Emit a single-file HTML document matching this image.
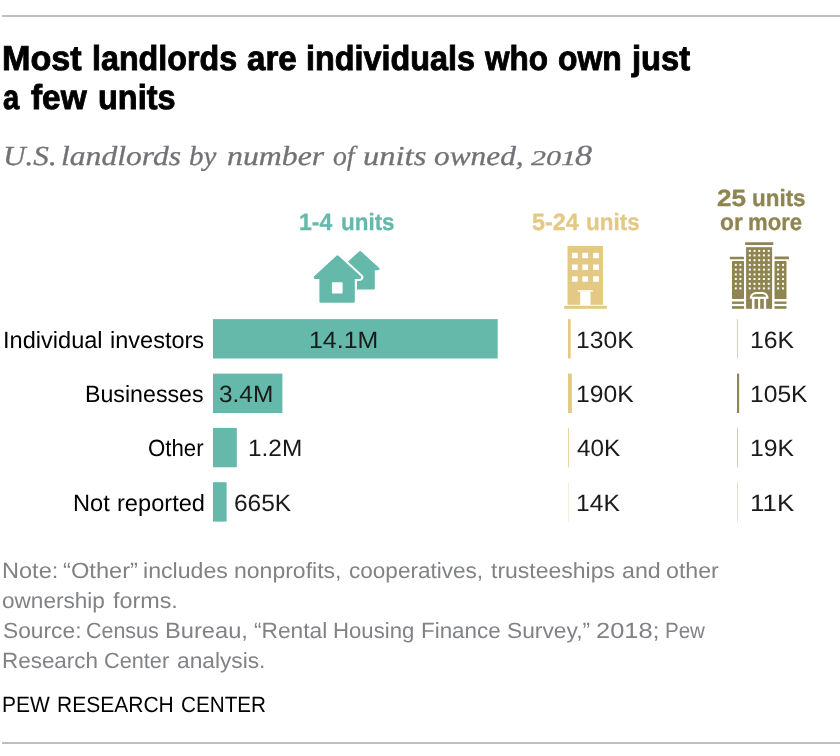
<!DOCTYPE html>
<html><head><meta charset="utf-8">
<style>
html,body{margin:0;padding:0;background:#fff;}
body{width:840px;height:756px;position:relative;overflow:hidden;font-family:"Liberation Sans",sans-serif;}
.abs{position:absolute;white-space:nowrap;line-height:1;transform-origin:0 0;text-rendering:geometricPrecision;}
.rule{position:absolute;left:2px;width:838px;height:2px;background:#bfbfbf;}
.title{font-weight:bold;color:#000;-webkit-text-stroke:0.9px #000;}
.sub{font-family:"Liberation Serif",serif;font-style:italic;color:#717276;-webkit-text-stroke:0.3px #717276;}
.lab{color:#000;}
.val{color:#1a1a1a;}
.hdr{font-weight:bold;-webkit-text-stroke:0.3px currentColor;}
.note{color:#808285;}
.bar{position:absolute;}
svg{position:absolute;left:0;top:0;}
</style></head><body>
<div class="rule" style="top:15px"></div>
<div class="abs title" id="e1" style="left:2.31px;top:41.98px;font-size:34.5px;transform:scaleX(0.9903);">Most</div>
<div class="abs title" id="e2" style="left:91.70px;top:41.98px;font-size:34.5px;transform:scaleX(0.9350);">landlords</div>
<div class="abs title" id="e3" style="left:246.61px;top:41.98px;font-size:34.5px;transform:scaleX(0.9610);">are</div>
<div class="abs title" id="e4" style="left:305.70px;top:41.98px;font-size:34.5px;transform:scaleX(0.9372);">individuals</div>
<div class="abs title" id="e5" style="left:484.90px;top:41.98px;font-size:34.5px;transform:scaleX(0.9135);">who</div>
<div class="abs title" id="e6" style="left:558.12px;top:41.98px;font-size:34.5px;transform:scaleX(0.9235);">own</div>
<div class="abs title" id="e7" style="left:631.64px;top:41.98px;font-size:34.5px;transform:scaleX(0.9472);">just</div>
<div class="abs title" id="e8" style="left:2.82px;top:80.97px;font-size:34.5px;transform:scaleX(0.8448);">a</div>
<div class="abs title" id="e9" style="left:30.91px;top:80.97px;font-size:34.5px;transform:scaleX(0.9674);">few</div>
<div class="abs title" id="e10" style="left:97.60px;top:80.97px;font-size:34.5px;transform:scaleX(0.9403);">units</div>
<div class="abs sub" id="e11" style="left:3.13px;top:141.97px;font-size:27.5px;transform:scaleX(1.1346);">U.S.</div>
<div class="abs sub" id="e12" style="left:61.19px;top:141.97px;font-size:27.5px;transform:scaleX(1.1491);">landlords</div>
<div class="abs sub" id="e13" style="left:189.25px;top:141.97px;font-size:27.5px;transform:scaleX(1.0526);">by</div>
<div class="abs sub" id="e14" style="left:227.08px;top:141.97px;font-size:27.5px;transform:scaleX(1.1569);">number</div>
<div class="abs sub" id="e15" style="left:332.92px;top:141.97px;font-size:27.5px;transform:scaleX(1.0084);">of</div>
<div class="abs sub" id="e16" style="left:362.95px;top:141.97px;font-size:27.5px;transform:scaleX(1.1843);">units</div>
<div class="abs sub" id="e17" style="left:434.18px;top:141.97px;font-size:27.5px;transform:scaleX(1.1403);">owned,</div>
<div class="abs sub" id="e18" style="left:531.40px;top:147.97px;font-size:21px;transform:scaleX(1.4324);">201</div>
<div class="abs sub" id="e19" style="left:574.96px;top:141.97px;font-size:29px;transform:scaleX(1.1818);">8</div>
<div class="abs hdr" id="e20" style="left:299.41px;top:210.97px;font-size:23.5px;transform:scaleX(0.9774);color:#64b9ab;">1-4</div>
<div class="abs hdr" id="e21" style="left:341.19px;top:210.97px;font-size:23.5px;transform:scaleX(0.9544);color:#64b9ab;">units</div>
<div class="abs hdr" id="e22" style="left:531.88px;top:210.97px;font-size:23.5px;transform:scaleX(0.9954);color:#e3c983;">5-24</div>
<div class="abs hdr" id="e23" style="left:586.19px;top:210.97px;font-size:23.5px;transform:scaleX(0.9562);color:#e3c983;">units</div>
<div class="abs hdr" id="e24" style="left:716.85px;top:186.97px;font-size:23.5px;transform:scaleX(1.1107);color:#8e8550;">25</div>
<div class="abs hdr" id="e25" style="left:752.19px;top:186.97px;font-size:23.5px;transform:scaleX(0.9544);color:#8e8550;">units</div>
<div class="abs hdr" id="e26" style="left:720.33px;top:210.97px;font-size:23.5px;transform:scaleX(0.9678);color:#8e8550;">or</div>
<div class="abs hdr" id="e27" style="left:748.06px;top:210.97px;font-size:23.5px;transform:scaleX(0.9406);color:#8e8550;">more</div>
<svg width="840" height="756" viewBox="0 0 840 756" shape-rendering="geometricPrecision"><rect x="213" y="319.1" width="284.7" height="39.4" fill="#64b9ab"/><rect x="213" y="373.6" width="69.4" height="39.4" fill="#64b9ab"/><rect x="213" y="427.9" width="23.8" height="39.4" fill="#64b9ab"/><rect x="213" y="482.2" width="13.6" height="39.4" fill="#64b9ab"/><rect x="568" y="319.1" width="2.65" height="39.4" fill="#e3c983"/><rect x="568" y="373.6" width="3.85" height="39.4" fill="#e3c983"/><rect x="568" y="427.9" width="0.8" height="39.4" fill="#e3c983"/><rect x="568" y="482.2" width="0.3" height="39.4" fill="#e3c983"/><rect x="737" y="319.1" width="0.38" height="39.4" fill="#8e8550"/><rect x="737" y="373.6" width="2.15" height="39.4" fill="#8e8550"/><rect x="737" y="427.9" width="0.42" height="39.4" fill="#8e8550"/><rect x="737" y="482.2" width="0.28" height="39.4" fill="#8e8550"/></svg>
<div class="abs lab" id="e28" style="left:3.36px;top:328.98px;font-size:23.5px;transform:scaleX(1.0031);">Individual</div>
<div class="abs lab" id="e29" style="left:109.83px;top:328.98px;font-size:23.5px;transform:scaleX(1.0007);">investors</div>
<div class="abs lab" id="e30" style="left:85.39px;top:382.98px;font-size:23.5px;transform:scaleX(0.9864);">Businesses</div>
<div class="abs lab" id="e31" style="left:147.86px;top:436.98px;font-size:23.5px;transform:scaleX(0.9452);">Other</div>
<div class="abs lab" id="e32" style="left:73.05px;top:491.98px;font-size:23.5px;transform:scaleX(1.0053);">Not</div>
<div class="abs lab" id="e33" style="left:116.62px;top:491.98px;font-size:23.5px;transform:scaleX(1.0054);">reported</div>
<div class="abs val" id="e34" style="left:309.14px;top:328.98px;font-size:23.5px;transform:scaleX(1.0600);">14.1M</div>
<div class="abs val" id="e35" style="left:219.44px;top:382.98px;font-size:23.5px;transform:scaleX(1.0395);">3.4M</div>
<div class="abs val" id="e36" style="left:248.27px;top:436.98px;font-size:23.5px;transform:scaleX(1.0388);">1.2M</div>
<div class="abs val" id="e37" style="left:234.35px;top:491.98px;font-size:23.5px;transform:scaleX(1.0424);">665K</div>
<div class="abs val" id="e38" style="left:575.96px;top:328.98px;font-size:23.5px;transform:scaleX(1.0496);">130K</div>
<div class="abs val" id="e39" style="left:575.96px;top:382.98px;font-size:23.5px;transform:scaleX(1.0496);">190K</div>
<div class="abs val" id="e40" style="left:576.62px;top:436.98px;font-size:23.5px;transform:scaleX(1.0317);">40K</div>
<div class="abs val" id="e41" style="left:575.96px;top:491.98px;font-size:23.5px;transform:scaleX(1.0476);">14K</div>
<div class="abs val" id="e42" style="left:750.15px;top:328.98px;font-size:23.5px;transform:scaleX(1.0551);">16K</div>
<div class="abs val" id="e43" style="left:750.16px;top:382.98px;font-size:23.5px;transform:scaleX(1.0477);">105K</div>
<div class="abs val" id="e44" style="left:750.15px;top:436.98px;font-size:23.5px;transform:scaleX(1.0551);">19K</div>
<div class="abs val" id="e45" style="left:750.08px;top:491.98px;font-size:23.5px;transform:scaleX(1.1031);">11K</div>
<div class="abs note" id="e46" style="left:1.86px;top:559.98px;font-size:22px;transform:scaleX(1.0700);">Note:</div>
<div class="abs note" id="e47" style="left:62.56px;top:559.98px;font-size:22px;transform:scaleX(1.0764);">“Other”</div>
<div class="abs note" id="e48" style="left:142.55px;top:559.98px;font-size:22px;transform:scaleX(1.0514);">includes</div>
<div class="abs note" id="e49" style="left:234.26px;top:559.98px;font-size:22px;transform:scaleX(1.0460);">nonprofits,</div>
<div class="abs note" id="e50" style="left:348.60px;top:559.98px;font-size:22px;transform:scaleX(1.0247);">cooperatives,</div>
<div class="abs note" id="e51" style="left:490.70px;top:559.98px;font-size:22px;transform:scaleX(1.0456);">trusteeships</div>
<div class="abs note" id="e52" style="left:621.77px;top:559.98px;font-size:22px;transform:scaleX(1.0551);">and</div>
<div class="abs note" id="e53" style="left:665.98px;top:559.98px;font-size:22px;transform:scaleX(1.0537);">other</div>
<div class="abs note" id="e54" style="left:1.99px;top:589.98px;font-size:22px;transform:scaleX(1.0264);">ownership</div>
<div class="abs note" id="e55" style="left:113.30px;top:589.98px;font-size:22px;transform:scaleX(1.0605);">forms.</div>
<div class="abs note" id="e56" style="left:2.59px;top:619.98px;font-size:22px;transform:scaleX(1.0350);">Source:</div>
<div class="abs note" id="e57" style="left:85.70px;top:619.98px;font-size:22px;transform:scaleX(0.9743);">Census</div>
<div class="abs note" id="e58" style="left:164.85px;top:619.98px;font-size:22px;transform:scaleX(1.0761);">Bureau,</div>
<div class="abs note" id="e59" style="left:254.29px;top:619.98px;font-size:22px;transform:scaleX(1.0322);">“Rental</div>
<div class="abs note" id="e60" style="left:333.27px;top:619.98px;font-size:22px;transform:scaleX(1.0069);">Housing</div>
<div class="abs note" id="e61" style="left:420.55px;top:619.98px;font-size:22px;transform:scaleX(1.0177);">Finance</div>
<div class="abs note" id="e62" style="left:506.99px;top:619.98px;font-size:22px;transform:scaleX(1.0356);">Survey,”</div>
<div class="abs note" id="e63" style="left:596.31px;top:619.98px;font-size:22px;transform:scaleX(1.1550);">2018;</div>
<div class="abs note" id="e64" style="left:665.10px;top:619.98px;font-size:22px;transform:scaleX(0.9336);">Pew</div>
<div class="abs note" id="e65" style="left:1.95px;top:649.98px;font-size:22px;transform:scaleX(1.0197);">Research</div>
<div class="abs note" id="e66" style="left:103.98px;top:649.98px;font-size:22px;transform:scaleX(0.9862);">Center</div>
<div class="abs note" id="e67" style="left:176.99px;top:649.98px;font-size:22px;transform:scaleX(1.0323);">analysis.</div>
<div class="abs lab" id="e68" style="left:2.06px;top:693.98px;font-size:22px;transform:scaleX(0.9527);">PEW</div>
<div class="abs lab" id="e69" style="left:56.66px;top:693.98px;font-size:22px;transform:scaleX(0.9551);">RESEARCH</div>
<div class="abs lab" id="e70" style="left:180.73px;top:693.98px;font-size:22px;transform:scaleX(0.9396);">CENTER</div>
<div class="rule" style="top:742px"></div>
<svg width="840" height="756" viewBox="0 0 840 756">
<g fill="#64b9ab" stroke="#64b9ab" stroke-linejoin="round"><path d="M360.1 252.6 L378 268.8 L342.2 268.8 Z" stroke-width="3"/><rect x="350" y="268" width="23.8" height="20.6" stroke-width="2"/></g>
<g fill="#fff" stroke="#fff" stroke-linejoin="round"><path d="M337.5 256.8 L359.8 277.4 L315.2 277.4 Z" stroke-width="7"/><rect x="320.4" y="277" width="33.4" height="24.7" stroke-width="6.4"/></g>
<g fill="#64b9ab" stroke="#64b9ab" stroke-linejoin="round"><path d="M337.5 256.8 L359.8 277.4 L315.2 277.4 Z" stroke-width="3"/><rect x="320.4" y="277" width="33.4" height="24.7" stroke-width="2"/></g>
<rect x="331.9" y="282.3" width="10.7" height="11.3" rx="1" fill="#fff"/>
<g fill="#e3c983"><rect x="567.5" y="245.9" width="35.5" height="58.9"/><rect x="564.1" y="305.8" width="42.8" height="3"/></g>
<g fill="#fff"><rect x="571.9" y="252.8" width="5.8" height="5.4"/><rect x="571.9" y="264.5" width="5.8" height="5.4"/><rect x="571.9" y="276.3" width="5.8" height="5.4"/><rect x="582.3" y="252.8" width="5.8" height="5.4"/><rect x="582.3" y="264.5" width="5.8" height="5.4"/><rect x="582.3" y="276.3" width="5.8" height="5.4"/><rect x="593.1" y="252.8" width="5.8" height="5.4"/><rect x="593.1" y="264.5" width="5.8" height="5.4"/><rect x="593.1" y="276.3" width="5.8" height="5.4"/><rect x="580.2" y="291.4" width="10.3" height="13.6"/><rect x="577.8" y="290.2" width="15.1" height="1.4"/></g>
<g fill="#8e8550"><rect x="745.1" y="242.2" width="28.3" height="2.9" rx="0.5"/><rect x="746.1" y="247.2" width="26" height="61.6"/><rect x="729.8" y="256.7" width="14.2" height="2.5" rx="0.5"/><rect x="732" y="260.9" width="12" height="38.1" rx="0.8"/><rect x="732" y="301.5" width="12" height="2.4"/><rect x="732" y="306.1" width="12" height="2.7"/><rect x="774.5" y="256.5" width="14.5" height="2.7" rx="0.5"/><rect x="774.5" y="260.9" width="12" height="38.1" rx="0.8"/><rect x="774.5" y="301.5" width="12" height="2.4"/><rect x="774.5" y="306.1" width="12" height="2.7"/></g>
<g fill="#fff"><rect x="748.80" y="249.90" width="2" height="2"/><rect x="748.80" y="254.40" width="2" height="2"/><rect x="748.80" y="259.20" width="2" height="2"/><rect x="748.80" y="263.90" width="2" height="2"/><rect x="748.80" y="268.60" width="2" height="2"/><rect x="748.80" y="273.40" width="2" height="2"/><rect x="748.80" y="278.00" width="2" height="2"/><rect x="748.80" y="282.80" width="2" height="2"/><rect x="748.80" y="287.40" width="2" height="2"/><rect x="753.50" y="249.90" width="2" height="2"/><rect x="753.50" y="254.40" width="2" height="2"/><rect x="753.50" y="259.20" width="2" height="2"/><rect x="753.50" y="263.90" width="2" height="2"/><rect x="753.50" y="268.60" width="2" height="2"/><rect x="753.50" y="273.40" width="2" height="2"/><rect x="753.50" y="278.00" width="2" height="2"/><rect x="753.50" y="282.80" width="2" height="2"/><rect x="753.50" y="287.40" width="2" height="2"/><rect x="758.20" y="249.90" width="2" height="2"/><rect x="758.20" y="254.40" width="2" height="2"/><rect x="758.20" y="259.20" width="2" height="2"/><rect x="758.20" y="263.90" width="2" height="2"/><rect x="758.20" y="268.60" width="2" height="2"/><rect x="758.20" y="273.40" width="2" height="2"/><rect x="758.20" y="278.00" width="2" height="2"/><rect x="758.20" y="282.80" width="2" height="2"/><rect x="758.20" y="287.40" width="2" height="2"/><rect x="762.90" y="249.90" width="2" height="2"/><rect x="762.90" y="254.40" width="2" height="2"/><rect x="762.90" y="259.20" width="2" height="2"/><rect x="762.90" y="263.90" width="2" height="2"/><rect x="762.90" y="268.60" width="2" height="2"/><rect x="762.90" y="273.40" width="2" height="2"/><rect x="762.90" y="278.00" width="2" height="2"/><rect x="762.90" y="282.80" width="2" height="2"/><rect x="762.90" y="287.40" width="2" height="2"/><rect x="767.70" y="249.90" width="2" height="2"/><rect x="767.70" y="254.40" width="2" height="2"/><rect x="767.70" y="259.20" width="2" height="2"/><rect x="767.70" y="263.90" width="2" height="2"/><rect x="767.70" y="268.60" width="2" height="2"/><rect x="767.70" y="273.40" width="2" height="2"/><rect x="767.70" y="278.00" width="2" height="2"/><rect x="767.70" y="282.80" width="2" height="2"/><rect x="767.70" y="287.40" width="2" height="2"/><rect x="734.80" y="263.90" width="2" height="2"/><rect x="734.80" y="268.60" width="2" height="2"/><rect x="734.80" y="273.40" width="2" height="2"/><rect x="734.80" y="278.00" width="2" height="2"/><rect x="734.80" y="282.80" width="2" height="2"/><rect x="734.80" y="287.40" width="2" height="2"/><rect x="739.40" y="263.90" width="2" height="2"/><rect x="739.40" y="268.60" width="2" height="2"/><rect x="739.40" y="273.40" width="2" height="2"/><rect x="739.40" y="278.00" width="2" height="2"/><rect x="739.40" y="282.80" width="2" height="2"/><rect x="739.40" y="287.40" width="2" height="2"/><rect x="777.10" y="263.90" width="2" height="2"/><rect x="777.10" y="268.60" width="2" height="2"/><rect x="777.10" y="273.40" width="2" height="2"/><rect x="777.10" y="278.00" width="2" height="2"/><rect x="777.10" y="282.80" width="2" height="2"/><rect x="777.10" y="287.40" width="2" height="2"/><rect x="782.00" y="263.90" width="2" height="2"/><rect x="782.00" y="268.60" width="2" height="2"/><rect x="782.00" y="273.40" width="2" height="2"/><rect x="782.00" y="278.00" width="2" height="2"/><rect x="782.00" y="282.80" width="2" height="2"/><rect x="782.00" y="287.40" width="2" height="2"/><path d="M749.8 298.8 C749.8 294 753 291.9 757 291.9 L761.5 291.9 C765.5 291.9 768.6 294 768.6 298.8 Z"/><rect x="751.9" y="298" width="14.3" height="11"/></g>
<g fill="#8e8550"><path d="M752.1 296.7 C752.6 294.6 754.5 294 757 294 L761.4 294 C763.9 294 765.7 294.6 766.2 296.7 Z"/><rect x="754.5" y="298.9" width="3.6" height="9.9"/><rect x="760.2" y="298.9" width="3.6" height="9.9"/></g>
</svg>
</body></html>
